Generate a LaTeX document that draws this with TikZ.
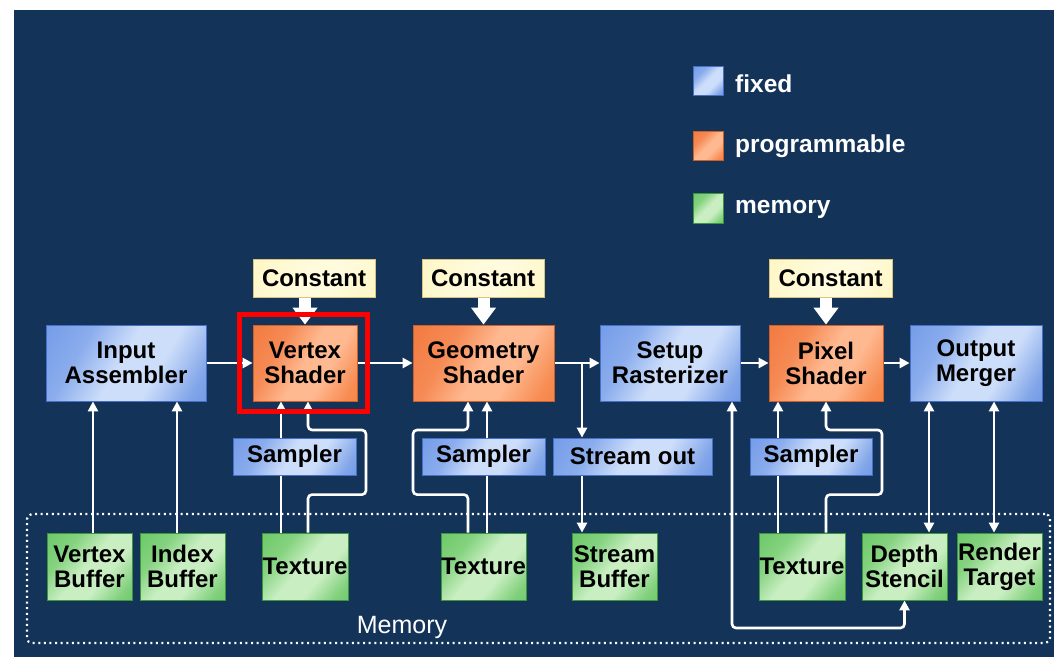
\documentclass[tikz,border=0pt]{standalone}
\usepackage{fontspec}
\setmainfont{Liberation Sans}
\usetikzlibrary{arrows.meta,calc}
\definecolor{navy}{RGB}{19,51,89}
\definecolor{fixedA}{RGB}{95,140,228}
\definecolor{fixedB}{RGB}{80,128,222}
\definecolor{fixedC}{RGB}{205,222,250}
\definecolor{fixedEdge}{RGB}{70,112,200}
\definecolor{progA}{RGB}{240,108,45}
\definecolor{progB}{RGB}{242,112,42}
\definecolor{progC}{RGB}{255,185,145}
\definecolor{progEdge}{RGB}{205,95,40}
\definecolor{memA}{RGB}{88,192,84}
\definecolor{memB}{RGB}{82,188,78}
\definecolor{memC}{RGB}{200,238,193}
\definecolor{memEdge}{RGB}{60,150,60}
\definecolor{constA}{RGB}{255,244,185}
\definecolor{constC}{RGB}{255,251,220}
\definecolor{constEdge}{RGB}{215,195,125}
\pgfdeclarehorizontalshading{fixedsh}{100bp}{color(0bp)=(fixedA); color(32bp)=(fixedA!60!fixedC); color(48bp)=(fixedC); color(62bp)=(fixedC); color(78bp)=(fixedB!60!fixedC); color(100bp)=(fixedB)}
\pgfdeclarehorizontalshading{progsh}{100bp}{color(0bp)=(progA); color(34bp)=(progA!60!progC); color(50bp)=(progC); color(62bp)=(progC); color(78bp)=(progB!60!progC); color(100bp)=(progB)}
\pgfdeclarehorizontalshading{memsh}{100bp}{color(0bp)=(memA); color(32bp)=(memA!60!memC); color(48bp)=(memC); color(62bp)=(memC); color(78bp)=(memB!60!memC); color(100bp)=(memB)}
\pgfdeclarehorizontalshading{constsh}{100bp}{color(0bp)=(constA); color(45bp)=(constC); color(60bp)=(constC); color(100bp)=(constA)}
\newcommand\boxfont{\fontsize{24pt}{25pt}\selectfont\bfseries}
\newcommand\legfont{\fontsize{24.5pt}{26pt}\selectfont\bfseries}
\newcommand\memfont{\fontsize{25pt}{26pt}\selectfont}
\pgfdeclarelayer{bg}
\pgfdeclarelayer{wires}
\pgfsetlayers{bg,wires,main}
\begin{document}
\begin{tikzpicture}[x=1pt,y=-1pt,
  base/.style={inner sep=0pt, align=center, text=black, font=\boxfont},
  fixedbox/.style={base, draw=fixedEdge, line width=0.8pt, shade, shading=fixedsh, shading angle=-30},
  progbox/.style={base, draw=progEdge, line width=0.8pt, shade, shading=progsh, shading angle=-30},
  membox/.style={base, draw=memEdge, line width=0.8pt, shade, shading=memsh, shading angle=-40, minimum width=85pt, minimum height=67pt},
  constbox/.style={base, draw=constEdge, line width=0.8pt, shade, shading=constsh, shading angle=-30, minimum width=122pt, minimum height=38pt},
  stage/.style={minimum height=76pt},
  samp/.style={fixedbox, minimum height=37pt},
  wire/.style={draw=white, line width=2.6pt, rounded corners=4pt, >={Triangle[length=10pt,width=10pt]}},
  fat/.style={draw=white, line width=12pt, -{Triangle[length=17pt,width=24pt]}},
  legtext/.style={text=white, font=\legfont, anchor=base west, inner sep=0pt},
  memframe/.style={draw=white, line width=2.2pt, dash pattern=on 2pt off 3.6pt, rounded corners=5pt, inner sep=0pt},
  redbox/.style={draw=red, line width=5pt, inner sep=0pt}
]
\useasboundingbox (0,0) rectangle (1054,657);
\begin{pgfonlayer}{bg}
  \fill[white] (0,0) rectangle (1054,657);
  \fill[navy] (14,10) rectangle (1054,657);
  \node[memframe, minimum width=1023pt, minimum height=129pt] (mem) at (538.5,578.5) {};
  \node[text=white, font=\memfont, inner sep=0pt] (memlbl) at (402,627) {Memory};
\end{pgfonlayer}

% legend
\node[fixedbox, minimum width=30pt, minimum height=29pt, shading angle=-45] (lfix) at (708,81) {};
\node[progbox, minimum width=30pt, minimum height=29pt, shading angle=-45] (lprog) at (708,145.5) {};
\node[membox, minimum width=30pt, minimum height=30pt, shading angle=-45] (lmem) at (708,208.5) {};
\node[legtext] (tfix) at (735,92) {fixed};
\node[legtext] (tprog) at (735,152) {programmable};
\node[legtext] (tmem) at (735,213) {memory};

% pipeline stages
\node[fixedbox, stage, minimum width=160pt] (ia) at (126,363) {Input\\Assembler};
\node[progbox, stage, minimum width=104pt] (vs) at (305,363) {Vertex\\Shader};
\node[progbox, stage, minimum width=141pt] (gs) at (483.5,363) {Geometry\\Shader};
\node[fixedbox, stage, minimum width=140pt] (sr) at (670,363) {Setup\\Rasterizer};
\node[progbox, stage, minimum width=114pt] (ps) at (826,363) {Pixel\\Shader};
\node[fixedbox, stage, minimum width=132pt] (om) at (976,363) {Output\\Merger};

% constants
\node[constbox] (c1) at (314,278) {Constant};
\node[constbox] (c2) at (483,278) {Constant};
\node[constbox, minimum width=123pt] (c3) at (830.5,278) {Constant};

% samplers
\node[samp, minimum width=123pt] (s1) at (294.5,456.5) {Sampler};
\node[samp, minimum width=123pt] (s2) at (483.5,456.5) {Sampler};
\node[samp, minimum width=159pt] (so) at (632.5,456.5) {Stream out};
\node[samp, minimum width=122pt] (s3) at (811,456.5) {Sampler};

% memory resources
\node[membox] (vb) at (89.5,566.5) {Vertex\\Buffer};
\node[membox] (ib) at (182.5,566.5) {Index\\Buffer};
\node[membox, minimum width=86pt] (t1) at (305,566.5) {Texture};
\node[membox] (t2) at (483.5,566.5) {Texture};
\node[membox] (sb) at (614.5,566.5) {Stream\\Buffer};
\node[membox, minimum width=86pt] (t3) at (802,566.5) {Texture};
\node[membox] (ds) at (904.5,566.5) {Depth\\Stencil};
\node[membox] (rt) at (999.5,566.5) {Render\\Target};

% highlight
\node[redbox, minimum width=128pt, minimum height=97pt] (hl) at (303,362.5) {};

% x positions of vertical wires
\coordinate (xvb) at (93,0);
\coordinate (xib) at (177,0);
\coordinate (xa1) at (281,0);
\coordinate (xa2) at (308,0);
\coordinate (xg1) at (468,0);
\coordinate (xg2) at (487,0);
\coordinate (xso) at (582,0);
\coordinate (xsr) at (732,0);
\coordinate (xp1) at (778,0);
\coordinate (xp2) at (826,0);
\coordinate (xom1) at (929,0);
\coordinate (xom2) at (994,0);
\coordinate (ybot) at (0,628);

\begin{pgfonlayer}{wires}
  % main row
  \draw[wire,->] (ia.east) -- (vs.west);
  \draw[wire,->] (vs.east) -- (gs.west);
  \draw[wire,->] (gs.east) -- (sr.west);
  \draw[wire,->] (sr.east) -- (ps.west);
  \draw[wire,->] (ps.east) -- (om.west);
  % constants
  \draw[fat] (c1.south -| vs.north) -- (vs.north);
  \draw[fat] (c2.south -| gs.north) -- (gs.north);
  \draw[fat] (c3.south -| ps.north) -- (ps.north);
  % input buffers
  \draw[wire,->] (vb.north -| xvb) -- (ia.south -| xvb);
  \draw[wire,->] (ib.north -| xib) -- (ia.south -| xib);
  % vertex shader textures
  \draw[wire,->] (t1.north -| xa1) -- (vs.south -| xa1);
  \draw[wire,->] (t1.north -| xa2) -- ++(0,-38) -| (366,430) -| (vs.south -| xa2);
  % geometry shader textures
  \draw[wire,->] (t2.north -| xg2) -- (gs.south -| xg2);
  \draw[wire,->] (t2.north -| xg1) -- ++(0,-38) -| (413,430) -| (gs.south -| xg1);
  % stream out
  \draw[wire,->] (gs.east -| xso) -- (so.north -| xso);
  \draw[wire,->] (so.south -| xso) -- (sb.north -| xso);
  % rasterizer <-> depth stencil
  \draw[wire,<->] (sr.south -| xsr) -- (xsr |- ybot) -| (ds.south);
  % pixel shader textures
  \draw[wire,->] (t3.north -| xp1) -- (ps.south -| xp1);
  \draw[wire,->] (t3.north -| xp2) -- ++(0,-38) -| (882,430) -| (ps.south -| xp2);
  % output merger
  \draw[wire,<->] (om.south -| xom1) -- (ds.north -| xom1);
  \draw[wire,<->] (om.south -| xom2) -- (rt.north -| xom2);
\end{pgfonlayer}
\end{tikzpicture}
\end{document}
